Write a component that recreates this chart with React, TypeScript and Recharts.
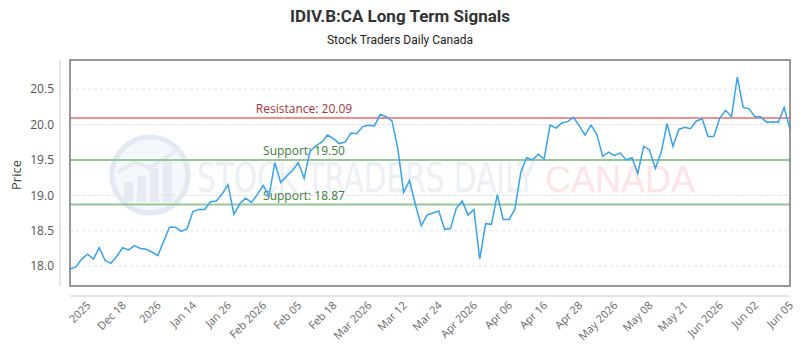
import React from "react";
import { LineChart, Line, XAxis, YAxis, CartesianGrid, ReferenceLine } from "recharts";

// daily closes, oldest first
const prices = [
  17.96, 17.99, 18.10, 18.17, 18.10, 18.26, 18.08, 18.04, 18.14, 18.26,
  18.23, 18.29, 18.25, 18.24, 18.20, 18.15, 18.35, 18.55, 18.55, 18.49,
  18.53, 18.77, 18.80, 18.80, 18.91, 18.92, 19.02, 19.15, 18.73, 18.88,
  18.96, 18.90, 19.01, 19.14, 18.99, 19.46, 19.18, 19.27, 19.35, 19.46,
  19.24, 19.62, 19.70, 19.75, 19.85, 19.80, 19.73, 19.75, 19.88, 19.87,
  19.97, 19.99, 19.98, 20.14, 20.11, 20.05, 19.66, 19.04, 19.21, 18.87,
  18.57, 18.72, 18.75, 18.78, 18.52, 18.53, 18.82, 18.92, 18.72, 18.80,
  18.10, 18.60, 18.59, 19.01, 18.66, 18.66, 18.80, 19.32, 19.53, 19.50,
  19.58, 19.51, 19.99, 19.95, 20.02, 20.04, 20.10, 19.98, 19.85, 19.99,
  19.86, 19.55, 19.61, 19.56, 19.60, 19.50, 19.53, 19.31, 19.69, 19.64,
  19.38, 19.61, 20.01, 19.69, 19.93, 19.96, 19.94, 20.05, 20.08, 19.83,
  19.83, 20.09, 20.20, 20.11, 20.67, 20.24, 20.22, 20.11, 20.11, 20.03,
  20.04, 20.03, 20.24, 19.93,
];

const tickLabels = [
  "2025", "Dec 18", "2026", "Jan 14", "Jan 26", "Feb 2026", "Feb 05",
  "Feb 18", "Mar 2026", "Mar 12", "Mar 24", "Apr 2026", "Apr 06", "Apr 16",
  "Apr 28", "May 2026", "May 08", "May 21", "Jun 2026", "Jun 02", "Jun 05",
];
const firstLabelAt = 3;
const labelEvery = 6;

const yTicks = [18.0, 18.5, 19.0, 19.5, 20.0, 20.5];
const yDomain = [17.72, 20.91];

const resistance = 20.09;
const supports = [19.5, 18.87];

const data = prices.map((price, idx) => ({ idx, price }));
const xTicks = tickLabels.map((_, k) => firstLabelAt + k * labelEvery);
const labelAt: Record<number, string> = {};
xTicks.forEach((t, k) => (labelAt[t] = tickLabels[k]));

const W = 800;
const H = 350;
const plot = { left: 70, right: 790, top: 60, bottom: 286 };
const font = "'Open Sans', sans-serif";

const XTick = ({ x, y, payload }: any) => (
  <text
    transform={`translate(${x + 4},${y + 18}) rotate(-45)`}
    textAnchor="end"
    fontSize={11}
    fontFamily={font}
    fill="#666"
  >
    {labelAt[payload.value]}
  </text>
);

const levelLabel = (text: string, color: string) => (props: any) => {
  const vb = props.viewBox;
  return (
    <text x={vb.x + 234} y={vb.y - 5} textAnchor="middle" fontSize={12} fontFamily={font} fill={color}>
      {text}
    </text>
  );
};

function Watermark() {
  return (
    <svg width={W} height={H} style={{ position: "absolute", left: 0, top: 0 }}>
      <line x1={plot.left} x2={plot.right} y1={124.7} y2={124.7} stroke="#f1f1f3" />
      <line x1={plot.left} x2={plot.right} y1={195.5} y2={195.5} stroke="#f1f1f3" />
      <circle cx={150} cy={175} r={38} fill="#f4f7fb" stroke="#e2e9f2" strokeWidth={5} />
      <rect x={124} y={182} width={9} height={20} fill="#e6ebf2" />
      <rect x={137} y={176} width={9} height={26} fill="#e6ebf2" />
      <rect x={150} y={168} width={9} height={34} fill="#e6ebf2" />
      <rect x={163} y={160} width={9} height={42} fill="#e6ebf2" />
      <polyline points="118,172 135,162 150,168 180,148" fill="none" stroke="#e6ebf2" strokeWidth={4} />
      <text
        x={197}
        y={192}
        fontSize={40}
        fontFamily="'Liberation Sans Narrow', 'DejaVu Sans Condensed', sans-serif"
        fill="#eceff4"
        textLength={338}
        lengthAdjust="spacingAndGlyphs"
      >
        STOCK TRADERS DAILY
      </text>
      <text x={545} y={192} fontSize={36} fontFamily="'Liberation Sans', sans-serif" fill="#fde4e6">
        CANADA
      </text>
    </svg>
  );
}

function Frame() {
  return (
    <svg width={W} height={H} style={{ position: "absolute", left: 0, top: 0, pointerEvents: "none" }}>
      <text x={400} y={22} textAnchor="middle" fontSize={17} fontWeight={700} fontFamily="Roboto, sans-serif" fill="#333">
        IDIV.B:CA Long Term Signals
      </text>
      <text x={400} y={44} textAnchor="middle" fontSize={12} fontFamily="Roboto, sans-serif" fill="#222">
        Stock Traders Daily Canada
      </text>
      <text
        transform="translate(21,175) rotate(-90)"
        textAnchor="middle"
        fontSize={13}
        fontFamily={font}
        fill="#444"
      >
        Price
      </text>
      <rect
        x={plot.left}
        y={plot.top}
        width={plot.right - plot.left}
        height={plot.bottom - plot.top}
        fill="none"
        stroke="#777"
        strokeWidth={1.5}
      />
      <line x1={60} x2={60} y1={plot.top} y2={plot.bottom} stroke="#ccc" />
      <line x1={plot.left} x2={plot.right} y1={296} y2={296} stroke="#ccc" />
    </svg>
  );
}

export default function App() {
  return (
    <div style={{ position: "absolute", left: 0, top: 0, width: W, height: H, background: "#fff" }}>
      <Watermark />
      <div style={{ position: "absolute", left: 0, top: 0 }}>
        <LineChart
          width={W}
          height={H}
          data={data}
          margin={{ top: plot.top, right: W - plot.right, bottom: 0, left: 0 }}
        >
          <CartesianGrid vertical={false} stroke="#e2e2e2" strokeDasharray="3 3" />
          <XAxis
            dataKey="idx"
            type="number"
            domain={[0, prices.length - 1]}
            ticks={xTicks}
            interval={0}
            axisLine={false}
            tickLine={false}
            tickSize={0}
            height={H - plot.bottom}
            tick={<XTick />}
          />
          <YAxis
            domain={yDomain}
            ticks={yTicks}
            allowDataOverflow
            axisLine={false}
            tickLine={false}
            tickSize={0}
            tickMargin={16}
            width={plot.left}
            tickFormatter={(v: number) => v.toFixed(1)}
            tick={{ fontSize: 12, fill: "#555", fontFamily: font }}
          />
          <ReferenceLine
            y={resistance}
            stroke="#ef8f8f"
            strokeWidth={2}
            label={{ content: levelLabel(`Resistance: ${resistance.toFixed(2)}`, "#a8323a") }}
          />
          {supports.map((s) => (
            <ReferenceLine
              key={s}
              y={s}
              stroke="#94c994"
              strokeWidth={2}
              label={{ content: levelLabel(`Support: ${s.toFixed(2)}`, "#3b7d3b") }}
            />
          ))}
          <Line
            type="linear"
            dataKey="price"
            stroke="#36A2EB"
            strokeWidth={1.5}
            dot={false}
            isAnimationActive={false}
          />
        </LineChart>
      </div>
      <Frame />
    </div>
  );
}
